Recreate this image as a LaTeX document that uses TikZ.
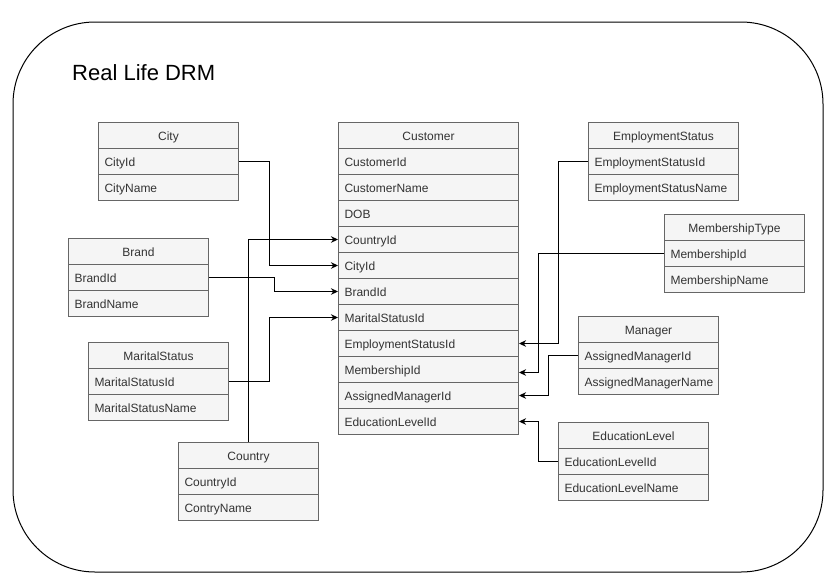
\documentclass[tikz,border=0pt]{standalone}
\usepackage{fontspec}
\setmainfont{Liberation Sans}
\usetikzlibrary{arrows.meta}
\definecolor{rowfill}{HTML}{F5F5F5}
\definecolor{rowline}{HTML}{666666}
\definecolor{rowtext}{HTML}{333333}
\tikzset{
  rowcell/.style={draw=rowline, fill=rowfill, line width=1pt, anchor=north west,
    minimum height=26pt, inner xsep=6pt, inner ysep=0pt, text height=12pt, text depth=1.4pt,
    font=\fontsize{12pt}{14pt}\selectfont, text=rowtext},
  conn/.style={draw=black, line width=1pt, -{Stealth[length=7pt,width=6.5pt,inset=2.2pt]}},
  frame/.style={draw=black, line width=1pt, rounded corners=82pt},
}
% \erdtable{name}{x}{y}{width}{title}{fields}
\newcommand{\erdtable}[6]{%
  \node[rowcell, minimum width=#4pt, text width=#4pt-12pt, align=center] (#1-0) at (#2,#3) {#5};
  \foreach \fld [count=\i] in {#6} {
    \node[rowcell, minimum width=#4pt, text width=#4pt-12pt, align=left] (#1-\i) at (#2,#3+26*\i) {\fld};
  }%
}
\begin{document}
\begin{tikzpicture}[x=1pt,y=-1pt]
\useasboundingbox (0,0) rectangle (840,587);
\draw[frame] (13,22) rectangle (823,572);
\node[anchor=base west, inner sep=0pt, font=\fontsize{22pt}{26pt}\selectfont] (title) at (72,80) {Real Life DRM};

\erdtable{city}{98}{122}{140}{City}{CityId,CityName}
\erdtable{cust}{338}{122}{180}{Customer}{CustomerId,CustomerName,DOB,CountryId,CityId,BrandId,MaritalStatusId,EmploymentStatusId,MembershipId,AssignedManagerId,EducationLevelId}
\erdtable{emp}{588}{122}{150}{EmploymentStatus}{EmploymentStatusId,EmploymentStatusName}
\erdtable{mem}{664}{214}{140}{MembershipType}{MembershipId,MembershipName}
\erdtable{brand}{68}{238}{140}{Brand}{BrandId,BrandName}
\erdtable{mgr}{578}{316}{140}{Manager}{AssignedManagerId,AssignedManagerName}
\erdtable{marital}{88}{342}{140}{MaritalStatus}{MaritalStatusId,MaritalStatusName}
\erdtable{edu}{558}{422}{150}{EducationLevel}{EducationLevelId,EducationLevelName}
\erdtable{country}{178}{442}{140}{Country}{CountryId,ContryName}

\draw[conn] (city-1.east) -- ++(30,0) |- (cust-5.west);
\draw[conn] (brand-1.east) -- ++(65,0) |- (cust-6.west);
\draw[conn] (country-0.north) |- (cust-4.west);
\draw[conn] (marital-1.east) -- ++(40,0) |- (cust-7.west);
\draw[conn] (emp-1.west) -- ++(-30,0) |- (cust-8.east);
\draw[conn] (mem-1.west) -- ++(-126,0) |- ([yshift=-3pt]cust-9.east);
\draw[conn] (mgr-1.west) -- ++(-30,0) |- (cust-10.east);
\draw[conn] (edu-1.west) -- ++(-20,0) |- (cust-11.east);
\end{tikzpicture}
\end{document}
